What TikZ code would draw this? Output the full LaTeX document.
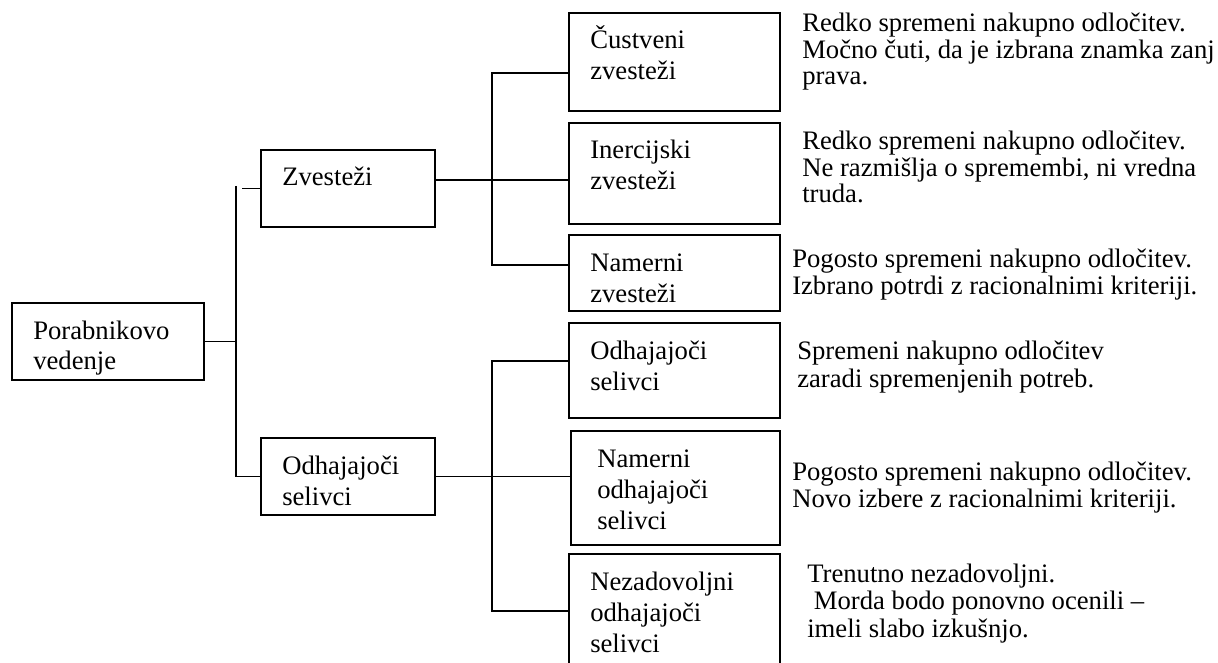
\documentclass[tikz,border=0pt]{standalone}
\usepackage{fontspec}
\setmainfont{Liberation Serif}
\begin{document}
\begin{tikzpicture}[x=0.75pt,y=-0.75pt,
  bx/.style 2 args={draw, line width=1.4pt, minimum width=#1*0.75pt, minimum height=#2*0.75pt, inner sep=0pt},
  con/.style={line width=1.4pt},
  txt/.style={anchor=base west, align=left, inner sep=0pt, font=\fontsize{20}{#1}\selectfont},
  txt/.default={23.25pt}]
\useasboundingbox (0,0) rectangle (1218,663);
\clip (0,0) rectangle (1218,663);
% boxes
\node[bx={192}{77}] (root) at (108,341.5) {};
\node[bx={174}{77}] (zv) at (348,188.5) {};
\node[bx={174}{77}] (odh) at (348,476.5) {};
\node[bx={211}{98}] (c1) at (674.5,62) {};
\node[bx={211}{101}] (c2) at (674.5,173.5) {};
\node[bx={211}{76}] (c3) at (674.5,273) {};
\node[bx={211}{95}] (c4) at (674.5,370.5) {};
\node[bx={209}{114}] (c5) at (675.5,488) {};
\node[bx={211}{146}] (c6) at (674.5,627) {};
% box texts (anchored at the baseline of the last line)
\node[txt=22.5pt] (troot) at (33,369) {Porabnikovo\\vedenje};
\node[txt] (tzv) at (282,186) {Zvesteži};
\node[txt] (todh) at (282,505) {Odhajajoči\\selivci};
\node[txt] (tc1) at (590,80) {Čustveni\\zvesteži};
\node[txt] (tc2) at (590,190) {Inercijski\\zvesteži};
\node[txt] (tc3) at (590,302) {Namerni\\zvesteži};
\node[txt] (tc4) at (590,390) {Odhajajoči\\selivci};
\node[txt] (tc5) at (597,529) {Namerni\\odhajajoči\\selivci};
\node[txt] (tc6) at (590,652) {Nezadovoljni\\odhajajoči\\selivci};
% descriptions
\node[txt=19.9pt] (d1) at (802,85) {Redko spremeni nakupno odločitev.\\Močno čuti, da je izbrana znamka zanj\\prava.};
\node[txt=19.9pt] (d2) at (802,203) {Redko spremeni nakupno odločitev.\\Ne razmišlja o spremembi, ni vredna\\truda.};
\node[txt=19.9pt] (d3) at (792,294) {Pogosto spremeni nakupno odločitev.\\Izbrano potrdi z racionalnimi kriteriji.};
\node[txt=20.5pt] (d4) at (797,387) {Spremeni nakupno odločitev\\zaradi spremenjenih potreb.};
\node[txt=19.9pt] (d5) at (792,507) {Pogosto spremeni nakupno odločitev.\\Novo izbere z racionalnimi kriteriji.};
\node[txt=20.5pt] (d6) at (807,637) {Trenutno nezadovoljni.\\\hspace*{5pt}Morda bodo ponovno ocenili –\\imeli slabo izkušnjo.};
% connector points
\coordinate (j1) at (236,186);
\coordinate (j2) at (236,476.5);
\coordinate (tick) at (242,188.5);
\coordinate (zo) at (435,180);
\coordinate (b1t) at (492,73);
\coordinate (b1b) at (492,265);
\coordinate (b2t) at (492,361);
\coordinate (b2b) at (492,611);
% connectors
\draw[con] (root.east) -- (root.east -| j1);
\draw[con] (j1) -- (j2) -- (odh.west);
\draw[con] (tick) -- (zv.west);
\draw[con] (zo) -- (zo -| c2.west);
\draw[con] (c1.west |- b1t) -- (b1t) -- (b1b) -- (b1b -| c3.west);
\draw[con] (odh.east) -- (odh.east -| c5.west);
\draw[con] (c4.west |- b2t) -- (b2t) -- (b2b) -- (b2b -| c6.west);
\end{tikzpicture}
\end{document}
